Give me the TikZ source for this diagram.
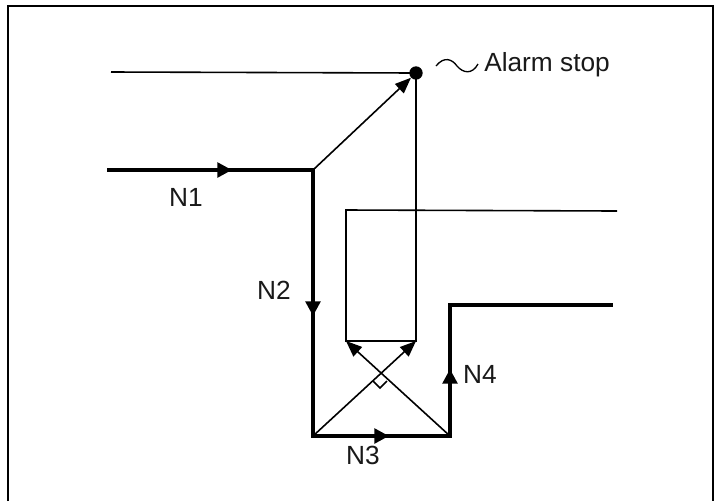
\documentclass[tikz,border=0pt]{standalone}
\usepackage{fontspec}
\setmainfont{Liberation Sans}
\usetikzlibrary{arrows.meta}
\tikzset{
  thinline/.style={line width=1.2pt,line join=miter},
  thickline/.style={line width=2.6pt,line join=miter},
  flowtip/.style={-{Triangle[length=11pt,width=11pt]}},
  arrowtip/.style={-{Triangle[length=12pt,width=9.5pt]}},
  lbl/.style={inner sep=0pt,font=\fontsize{19.7pt}{22pt}\selectfont,text=black!90},
  frameline/.style={line width=1.6pt}
}
\begin{document}
\begin{tikzpicture}[x=0.75pt,y=-0.75pt]
\useasboundingbox (0,0) rectangle (714,501);
% frame
\coordinate (fa) at (8,501);
\coordinate (fb) at (8,6);
\coordinate (fc) at (713,6);
\coordinate (fd) at (713,501);
\draw[frameline] (fa) -- (fb) -- (fc) -- (fd);
% junctions
\coordinate (start) at (107,170);
\coordinate (j1) at (313,170);
\coordinate (j2) at (313,436);
\coordinate (j3) at (450,436);
\coordinate (j4) at (450,305);
\coordinate (end) at (613,305);
\coordinate (t1) at (232,170);
\coordinate (t2) at (313,316);
\coordinate (t3) at (389,436);
\coordinate (t4) at (450,369);
\coordinate (progstart) at (111,72);
\node[circle,fill=black,inner sep=0pt,minimum size=10pt] (stop) at (416,73) {};
\coordinate (bl) at (346,341);
\coordinate (br) at (416,341);
\coordinate (tl) at (346,210);
\coordinate (tr) at (617,211);
\coordinate (cross) at (380,373);
\coordinate (dl) at (373,381);
\coordinate (db) at (380,388);
\coordinate (dr) at (387,381);
% thin program paths
\draw[thinline] (progstart) -- (stop.center);
\draw[thinline] (stop.center) -- (br) -- (bl) -- (tl) -- (tr);
% thick tool path
\draw[thickline] (start) -- (j1) -- (j2) -- (j3) -- (j4) -- (end);
\draw[thickline,flowtip] (start) -- (t1);
\draw[thickline,flowtip] (j1) -- (t2);
\draw[thickline,flowtip] (j2) -- (t3);
\draw[thickline,flowtip] (j3) -- (t4);
% thin arrows
\draw[thinline,arrowtip] (j1) -- (stop);
\draw[thinline,arrowtip] (j2) -- (br);
\draw[thinline,arrowtip] (j3) -- (bl);
% right angle mark
\draw[thinline] (dl) -- (db) -- (dr);
% tilde
\coordinate (wa) at (436,66);
\coordinate (wb) at (478,64);
\draw[line width=1pt] (wa) .. controls (444,56) and (452,59) .. (457,66) .. controls (463,73) and (472,75) .. (wb);
% labels
\node[lbl,anchor=west] (alarm) at (484,65) {Alarm stop};
\node[lbl] (n1) at (186,197) {N1};
\node[lbl] (n2) at (274,290) {N2};
\node[lbl] (n3) at (363,455) {N3};
\node[lbl] (n4) at (480,374) {N4};
\end{tikzpicture}
\end{document}
